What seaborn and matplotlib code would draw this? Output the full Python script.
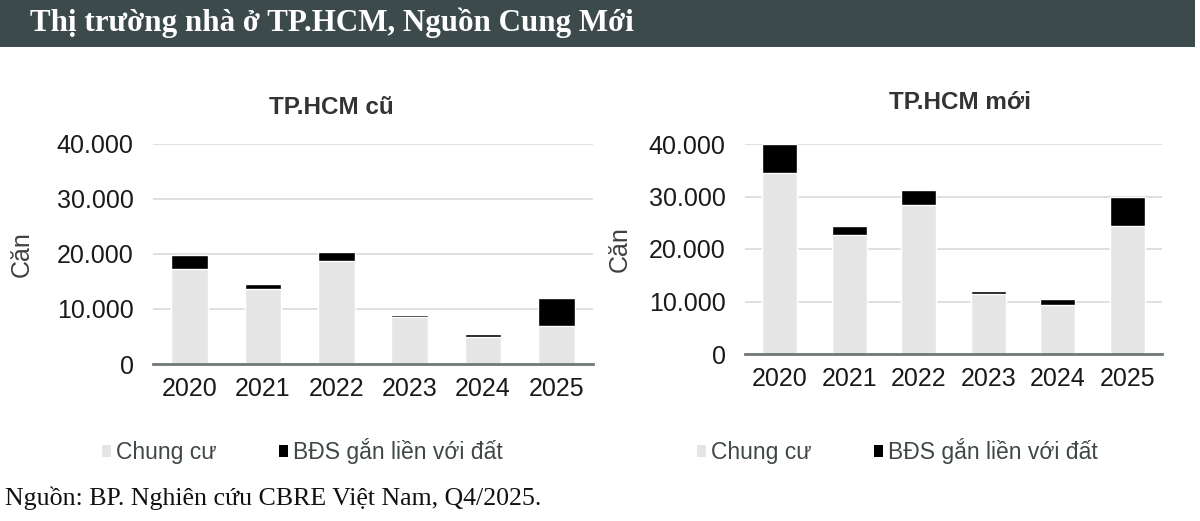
import matplotlib
matplotlib.use('Agg')
import matplotlib.pyplot as plt
import seaborn as sns
import pandas as pd
from matplotlib.patches import Rectangle, Patch
from matplotlib.ticker import FuncFormatter

# Số liệu (căn)
years = ['2020', '2021', '2022', '2023', '2024', '2025']
cu_chung_cu = [17300, 13600, 18700, 8600, 5000, 6950]
cu_bds_dat = [2600, 900, 1700, 400, 450, 5100]
moi_chung_cu = [34500, 22600, 28400, 11500, 9400, 24400]
moi_bds_dat = [5500, 1800, 2800, 450, 1000, 5600]

labels = ['Chung cư', 'BĐS gắn liền với đất']
c_grey = '#e5e5e5'
c_black = '#000000'

sns.set_theme(style='white')
plt.rcParams['font.family'] = ['Liberation Sans', 'DejaVu Sans']

W, H = 1200, 521
fig = plt.figure(figsize=(W / 100, H / 100), dpi=100)

# thanh tiêu đề
fig.patches.append(Rectangle((0, 1 - 47 / H), 1195 / W, 47 / H, transform=fig.transFigure,
                             facecolor='#3d4a4c', edgecolor='none', zorder=0))
fig.text(30 / W, 1 - 23 / H, 'Thị trường nhà ở TP.HCM, Nguồn Cung Mới', color='white',
         family=['Liberation Serif', 'DejaVu Serif'], fontweight='bold', fontsize=22.3, va='center')


def fmt(v, pos):
    return f'{int(v):,}'.replace(',', '.')


def draw(rect, cc, bds, title, title_xy, ylab_x, leg_x):
    ax = fig.add_axes(rect)
    df = pd.DataFrame({'year': years, 'cc': cc, 'bds': bds})
    df['total'] = df['cc'] + df['bds']
    sns.barplot(data=df, x='year', y='total', color=c_black, width=0.5, ax=ax,
                saturation=1, zorder=3)
    sns.barplot(data=df, x='year', y='cc', color=c_grey, width=0.5, ax=ax,
                saturation=1, zorder=4)
    ax.set_ylim(0, 40000)
    ax.set_yticks(range(0, 40001, 10000))
    ax.yaxis.set_major_formatter(FuncFormatter(fmt))
    ax.set_xlabel('')
    ax.set_ylabel('')
    ax.grid(axis='y', color='#d9d9d9', lw=1.2, zorder=0)
    ax.set_axisbelow(True)
    for s in ['top', 'left', 'right']:
        ax.spines[s].set_visible(False)
    ax.spines['bottom'].set_color('#6f7878')
    ax.spines['bottom'].set_linewidth(2)
    ax.spines['bottom'].set_zorder(5)
    ax.tick_params(axis='both', length=0, labelsize=18, colors='#1a1a1a')
    ax.tick_params(axis='y', pad=14)
    ax.tick_params(axis='x', pad=9)
    fig.text(title_xy[0] / W, 1 - title_xy[1] / H, title, fontsize=17.5, fontweight='bold',
             color='#333333', ha='center', va='center')
    fig.text(ylab_x / W, rect[1] + rect[3] / 2, 'Căn', rotation=90, fontsize=18,
             color='#404040', ha='center', va='center')
    handles = [Patch(facecolor=c_grey, edgecolor='none'), Patch(facecolor=c_black, edgecolor='none')]
    fig.legend(handles, labels, loc='center left', bbox_to_anchor=(leg_x / W, 1 - 451 / H),
               ncol=2, frameon=False, fontsize=16.5, handlelength=0.4, handleheight=0.4,
               handletextpad=0.22, columnspacing=2.7, borderpad=0, borderaxespad=0,
               labelcolor='#3f4747')
    return ax


draw([153 / W, 1 - 364 / H, 440 / W, 220 / H], cu_chung_cu, cu_bds_dat,
     'TP.HCM cũ', (331, 108), 22, 102)
draw([745 / W, 1 - 354 / H, 417 / W, 210 / H], moi_chung_cu, moi_bds_dat,
     'TP.HCM mới', (960, 103), 620, 697)

fig.text(5 / W, 1 - 498 / H, 'Nguồn: BP. Nghiên cứu CBRE Việt Nam, Q4/2025.',
         family=['Liberation Serif', 'DejaVu Serif'], fontsize=18.6, color='#111111', va='center')

fig.savefig('out.png', dpi=100, facecolor='white')
